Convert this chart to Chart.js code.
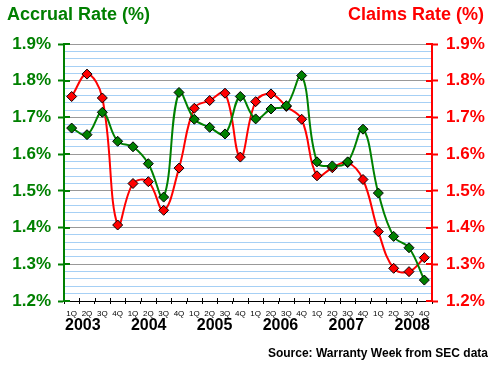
<!DOCTYPE html>
<html>
<head>
<meta charset="utf-8">
<script src="https://cdn.jsdelivr.net/npm/chart.js@4/dist/chart.umd.min.js"></script>
<style>
  html, body { margin: 0; padding: 0; background: #fff; }
  #wrap { position: relative; width: 500px; height: 365px; overflow: hidden; }
  canvas { position: absolute; left: 0; top: 0; }
  .t { position: absolute; font-family: "Liberation Sans", Arial, sans-serif; font-weight: bold; white-space: nowrap; }
  #tl { left: 7px; top: 5px; font-size: 18px; line-height: 18px; color: #007f00; }
  #tr { right: 16px; top: 5px; font-size: 18px; line-height: 18px; color: #ff0000; }
  #src { right: 12px; top: 347px; font-size: 12px; line-height: 12px; color: #000; }
</style>
</head>
<body>
<div id="wrap">
  <canvas id="c" width="500" height="365"></canvas>
  <div class="t" id="tl">Accrual Rate (%)</div>
  <div class="t" id="tr">Claims Rate (%)</div>
  <div class="t" id="src">Source: Warranty Week from SEC data</div>
</div>
<script>
const years = ['2003', '2004', '2005', '2006', '2007', '2008'];
const quarters = ['1Q', '2Q', '3Q', '4Q'];
const accrualRate = [1.671, 1.653, 1.714, 1.635, 1.620, 1.574, 1.483, 1.768,
                     1.695, 1.673, 1.655, 1.757, 1.696, 1.723, 1.732, 1.814,
                     1.579, 1.568, 1.579, 1.668, 1.494, 1.376, 1.345, 1.257];
const claimsRate = [1.757, 1.818, 1.753, 1.407, 1.520, 1.525, 1.447, 1.562,
                    1.725, 1.746, 1.766, 1.592, 1.743, 1.764, 1.730, 1.695,
                    1.541, 1.563, 1.577, 1.531, 1.389, 1.289, 1.280, 1.318];
const yMin = 1.2, yMax = 1.9, yMinor = 0.02;

const GREEN = '#008000', RED = '#ff0000';
const FONT = '"Liberation Sans", Arial, sans-serif';

const labels = [];
years.forEach(() => quarters.forEach(q => labels.push(q)));

const isMajor = v => Math.abs(v * 10 - Math.round(v * 10)) < 1e-6;

const extras = {
  id: 'extras',
  beforeDatasetsDraw(chart) {
    const ctx = chart.ctx, a = chart.chartArea;
    const y = chart.scales.y, x = chart.scales.x;
    ctx.save();
    // inner halves of the tick marks
    y.ticks.forEach((t, i) => {
      if (!isMajor(t.value)) return;
      const py = Math.round(y.getPixelForTick(i));
      ctx.fillStyle = GREEN; ctx.fillRect(a.left, py - 1, 6, 2);
      ctx.fillStyle = RED; ctx.fillRect(a.right - 6, py - 1, 6, 2);
    });
    ctx.fillStyle = '#000';
    for (let i = 1; i < labels.length; i++) {
      const px = Math.round((x.getPixelForValue(i - 1) + x.getPixelForValue(i)) / 2);
      ctx.fillRect(px, a.bottom - 3, 1, 3);
    }
    ctx.restore();
  },
  afterDraw(chart) {
    const ctx = chart.ctx, a = chart.chartArea;
    ctx.save();
    ctx.font = 'bold 16px ' + FONT;
    ctx.fillStyle = '#000';
    ctx.textBaseline = 'alphabetic';
    ctx.textAlign = 'left';
    const w = ctx.measureText(years[0]).width;
    const L = a.left + 1, R = a.right - 2;
    const step = (R - L - w) / (years.length - 1);
    years.forEach((yr, i) => ctx.fillText(yr, L + i * step, a.bottom + 29));
    ctx.restore();
  }
};

new Chart(document.getElementById('c'), {
  type: 'line',
  data: {
    labels: labels,
    datasets: [
      {
        label: 'Accrual Rate (%)', data: accrualRate, yAxisID: 'y',
        borderColor: GREEN, borderWidth: 2, tension: 0.4, fill: false,
        pointStyle: 'rectRot', pointRadius: 5, pointBackgroundColor: GREEN,
        pointBorderColor: '#000', pointBorderWidth: 1
      },
      {
        label: 'Claims Rate (%)', data: claimsRate, yAxisID: 'y1',
        borderColor: RED, borderWidth: 2, tension: 0.4, fill: false,
        pointStyle: 'rectRot', pointRadius: 5, pointBackgroundColor: RED,
        pointBorderColor: '#000', pointBorderWidth: 1
      }
    ]
  },
  options: {
    responsive: false,
    animation: false,
    layout: { padding: { top: 44, left: 0, right: 0, bottom: 0 } },
    plugins: { legend: { display: false }, tooltip: { enabled: false }, title: { display: false } },
    scales: {
      x: {
        type: 'category',
        offset: true,
        afterFit(s) { s.height = 64; },
        border: { color: '#000', width: 1 },
        grid: { offset: true, drawOnChartArea: false, tickLength: 3, tickColor: '#000' },
        ticks: { autoSkip: false, maxRotation: 0, padding: 5, color: '#000', font: { family: FONT, size: 8 } }
      },
      y: {
        position: 'left',
        min: yMin, max: yMax,
        afterFit(s) { s.width = 64; },
        border: { color: GREEN, width: 2 },
        grid: {
          color: c => isMajor(c.tick.value) ? '#999999' : '#a6d0f5',
          lineWidth: 1,
          tickLength: 6,
          tickWidth: 2,
          tickColor: c => isMajor(c.tick.value) ? GREEN : 'rgba(0,0,0,0)'
        },
        ticks: {
          stepSize: yMinor, autoSkip: false, padding: 7, color: GREEN,
          font: { family: FONT, size: 17, weight: 'bold' },
          callback: v => isMajor(v) ? v.toFixed(1) + '%' : ''
        }
      },
      y1: {
        position: 'right',
        min: yMin, max: yMax,
        afterFit(s) { s.width = 68; },
        border: { color: RED, width: 2 },
        grid: {
          drawOnChartArea: false,
          tickLength: 6,
          tickWidth: 2,
          tickColor: c => isMajor(c.tick.value) ? RED : 'rgba(0,0,0,0)'
        },
        ticks: {
          stepSize: yMinor, autoSkip: false, padding: 8, color: RED,
          font: { family: FONT, size: 17, weight: 'bold' },
          callback: v => isMajor(v) ? v.toFixed(1) + '%' : ''
        }
      }
    }
  },
  plugins: [extras]
});
</script>
</body>
</html>
